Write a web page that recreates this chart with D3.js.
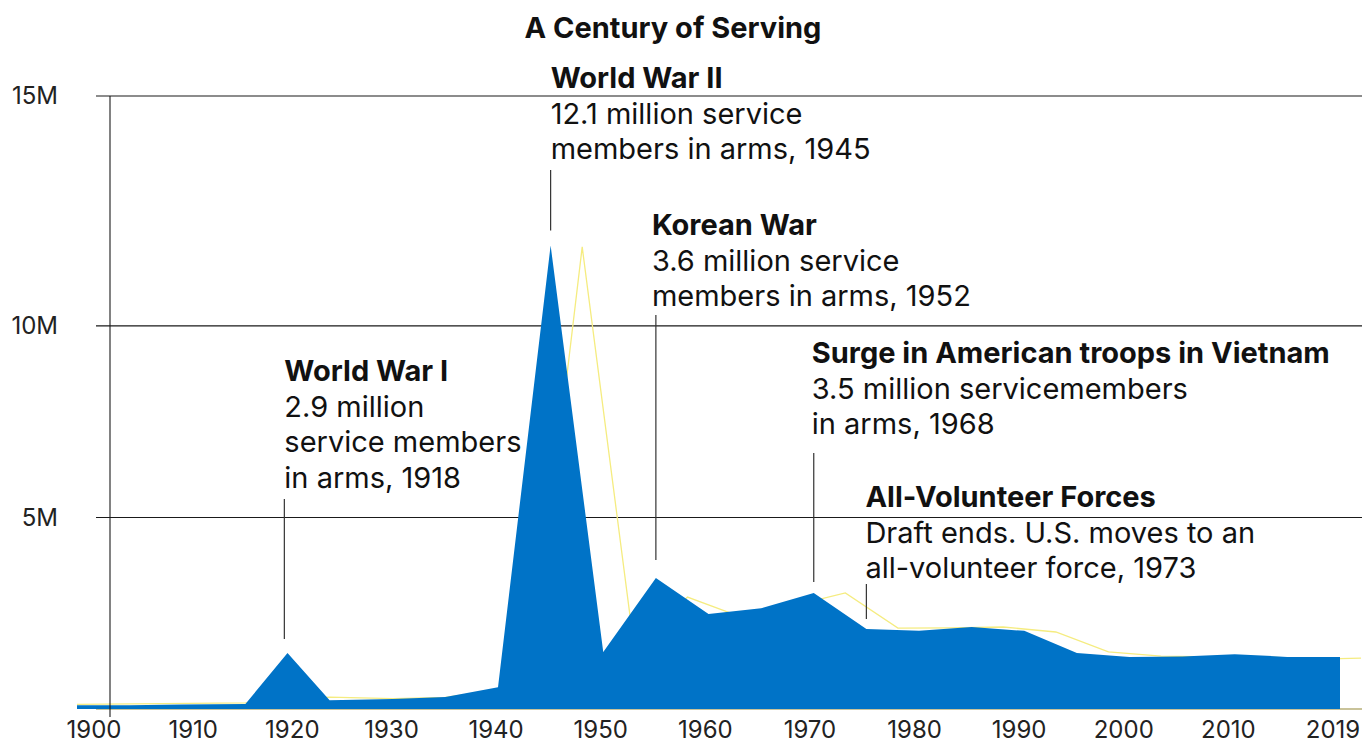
<!DOCTYPE html>
<html><head><meta charset="utf-8">
<script src="https://cdn.jsdelivr.net/npm/d3@7"></script>
<style>
body{margin:0;background:#fff}
svg{display:block}
text{font-family:Inter, "Open Sans", sans-serif;fill:#111}
</style>
</head><body>
<svg id="chart" width="1362" height="744"></svg>
<script>
// ---- data (millions of service members) ----
const years  = [1900,1905,1910,1916,1920,1924,1930,1935,1940,1945,1950,1955,1960,1965,1970,1975,1980,1985,1990,1995,2000,2005,2010,2015,2020];
const troops = [0.10,0.10,0.12,0.13,1.46,0.23,0.26,0.31,0.57,12.1,1.49,3.42,2.48,2.63,3.03,2.09,2.04,2.14,2.04,1.46,1.36,1.37,1.43,1.36,1.36];

const ghostYears  = [1900,1916,1924,1930,1935,1940,1943,1948,1953,1958,1963,1968,1973,1978,1983,1988,1993,1998,2003,2008,2013,2018,2022];
const ghostValues = [0.12,0.16,0.31,0.27,0.30,0.50,0.52,12.06,1.46,2.92,2.41,2.69,3.03,2.11,2.12,2.14,2.01,1.49,1.38,1.36,1.36,1.30,1.33];

const yTickValues = [0,5,10,16];
const yTickLabels = ["","5M","10M","15M"];
const xTickValues = [1900,1910,1920,1930,1940,1950,1960,1970,1980,1990,2000,2010,2020];
const xTickLabels = ["1900","1910","1920","1930","1940","1950","1960","1970","1980","1990","2000","2010","2019"];

const title = "A Century of Serving";
const annHeads = ["World War I","World War II","Korean War","Surge in American troops in Vietnam","All-Volunteer Forces"];
const annBodies = [
  ["2.9 million","service members","in arms, 1918"],
  ["12.1 million service","members in arms, 1945"],
  ["3.6 million service","members in arms, 1952"],
  ["3.5 million servicemembers","in arms, 1968"],
  ["Draft ends. U.S. moves to an","all-volunteer force, 1973"]
];
const annYears  = [1919.7,1945,1955,1970,1975];
const annValues = [1.46,12.1,3.42,3.03,2.09];

// ---- layout (positions / styles only) ----
const W = 1362, H = 744;
const annLayout = [
  {dx:0,  head:381, lineTop:499, gap:14},
  {dx:0,  head:88,  lineTop:170, gap:15},
  {dx:-4, head:235, lineTop:315, gap:18},
  {dx:-2, head:363, lineTop:453, gap:11},
  {dx:-1, head:507, lineTop:584, gap:10}
];
const lineH = 35.5;
const annFont = 29;

const svg = d3.select("#chart");
const x = d3.scaleLinear().domain([1900,2020]).range([77,1340]);
const xl = d3.scaleLinear().domain([1900,1930,2020]).range([94,391.5,1333]);
const y = d3.scaleLinear().domain([0,16]).range([709,96]);

// gridlines
svg.append("g").selectAll("line").data(yTickValues).join("line")
  .attr("x1",96).attr("x2",W)
  .attr("y1",d=>y(d)).attr("y2",d=>y(d))
  .attr("stroke",d=>d===0?"#c9c39a":"#1a1a1a")
  .attr("stroke-width",d=>d===0?2:1.1);

svg.append("g").selectAll("text").data(yTickValues).join("text")
  .attr("x",58).attr("y",d=>y(d)).attr("dy","0.35em")
  .attr("text-anchor","end").attr("font-size",24).style("fill","#222")
  .text((d,i)=>yTickLabels[i]);

// ghost line (drawn under the area)
svg.append("path")
  .datum(ghostYears.map((d,i)=>[d,ghostValues[i]]))
  .attr("fill","none").attr("stroke","#f5ec80").attr("stroke-width",1.3)
  .attr("d",d3.line().x(d=>x(d[0])).y(d=>y(d[1])));

// area
svg.append("path")
  .datum(years.map((d,i)=>[d,troops[i]]))
  .attr("fill","#0073c7")
  .attr("d",d3.area().x(d=>x(d[0])).y0(y(0)).y1(d=>y(d[1])));

// y axis line
svg.append("line").attr("x1",110).attr("x2",110)
  .attr("y1",y(16)).attr("y2",y(0)+8).attr("stroke","#1a1a1a").attr("stroke-width",1.1);

// x tick labels
svg.append("g").selectAll("text").data(xTickValues).join("text")
  .attr("x",d=>xl(d)).attr("y",738)
  .attr("text-anchor","middle").attr("font-size",24).style("fill","#222")
  .text((d,i)=>xTickLabels[i]);

// title
svg.append("text").attr("x",673).attr("y",38).attr("text-anchor","middle")
  .attr("font-size",annFont).attr("font-weight",700).text(title);

// annotations
annHeads.forEach((h,i)=>{
  const L = annLayout[i];
  const ax = x(annYears[i]);
  const g = svg.append("g");
  g.append("line").attr("x1",ax).attr("x2",ax)
    .attr("y1",L.lineTop).attr("y2",y(annValues[i])-L.gap)
    .attr("stroke","#333").attr("stroke-width",1.2);
  const t = g.append("text").attr("font-size",annFont);
  t.append("tspan").attr("x",ax+L.dx).attr("y",L.head).attr("font-weight",700).text(h);
  annBodies[i].forEach((b,j)=>{
    t.append("tspan").attr("x",ax+L.dx).attr("y",L.head+lineH*(j+1)).text(b);
  });
});
</script>
</body></html>
